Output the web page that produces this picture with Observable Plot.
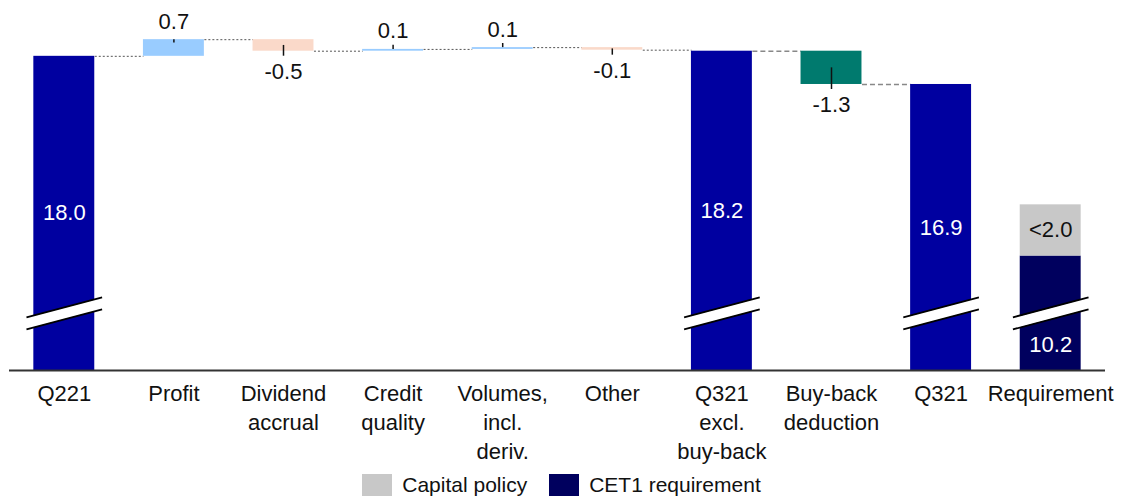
<!DOCTYPE html>
<html>
<head>
<meta charset="utf-8">
<script src="https://cdn.jsdelivr.net/npm/d3@7"></script>
<script src="https://cdn.jsdelivr.net/npm/@observablehq/plot@0.6"></script>
<style>
  html, body { margin: 0; padding: 0; background: #fff; }
  body { width: 1123px; font-family: "Liberation Sans", Arial, sans-serif; }
  #legend { display: flex; justify-content: center; align-items: center; margin-top: 3px; font-size: 21px; color: #111; }
  #legend .item { display: flex; align-items: center; margin: 0 11px; }
  #legend .sw { width: 30px; height: 22px; margin-right: 10px; }
</style>
</head>
<body>
<div id="chart"></div>
<div id="legend"></div>
<script>
// ---- data ----
const categories = ["Q221", "Profit", "Dividend\naccrual", "Credit\nquality", "Volumes,\nincl.\nderiv.", "Other", "Q321\nexcl.\nbuy-back", "Buy-back\ndeduction", "Q321", "Requirement"];
const kinds = ["total", "delta", "delta", "delta", "delta", "delta", "total", "delta", "total", "total"];
const values = [18.0, 0.65, -0.45, 0.07, 0.07, -0.1, 18.2, -1.3, 16.9, 10.2];
const valueLabels = ["18.0", "0.7", "-0.5", "0.1", "0.1", "-0.1", "18.2", "-1.3", "16.9", "10.2"];
const capitalPolicy = 2.0;
const capitalPolicyLabel = "<2.0";
const legendLabels = ["Capital policy", "CET1 requirement"];

// ---- styles ----
const C = {
  total: "#0000A0",
  req: "#00005E",
  pos: "#99CCFF",
  neg: "#FAD9C9",
  buyback: "#007A6E",
  policy: "#C8C8C8"
};
const yMin = 5.73, yMax = 20.18;
const hw = 0.278;           // half bar width (x units)
const breakCenter = 7.96;   // value at centre of the axis-break marks
const brokenBars = [0, 6, 8, 9];
const FS = 22;

// ---- derived rows ----
let cum = 0;
const rows = categories.map((c, i) => {
  const kind = kinds[i];
  let y1, y2;
  if (kind === "total") { y1 = yMin; y2 = values[i]; cum = values[i]; }
  else { y1 = cum; y2 = cum + values[i]; cum = y2; }
  let fill;
  if (kind === "total") fill = (i === 9 ? C.req : C.total);
  else if (i === 7) fill = C.buyback;
  else fill = values[i] >= 0 ? C.pos : C.neg;
  return { i, cat: c, kind, v: values[i], label: valueLabels[i], y1, y2, end: y2, fill };
});
const conns = rows.slice(0, 8).map((r, k) => ({
  x1: r.i + hw, x2: r.i + 1 - hw, level: r.end, late: k >= 6
}));
const totals = rows.filter(r => r.kind === "total");
const deltas = rows.filter(r => r.kind === "delta");
const posD = deltas.filter(r => r.v >= 0);
const negD = deltas.filter(r => r.v < 0);
const req = rows[9];
const breaks = rows.filter(r => brokenBars.includes(r.i));
const bx = 0.345, by = 0.39, bg = 0.235;

const plot = Plot.plot({
  width: 1123,
  height: 470,
  marginLeft: 9,
  marginRight: 18,
  marginTop: 0,
  marginBottom: 100,
  x: { domain: [-0.5, 9.5], axis: null },
  y: { domain: [yMin, yMax], axis: null },
  style: { fontFamily: "'Liberation Sans', Arial, sans-serif", fontSize: FS + "px", background: "#fff" },
  marks: [
    // connectors
    Plot.link(conns.filter(d => !d.late), { x1: "x1", x2: "x2", y1: "level", y2: "level", stroke: "#555", strokeWidth: 1, strokeDasharray: "2,2" }),
    Plot.link(conns.filter(d => d.late), { x1: "x1", x2: "x2", y1: "level", y2: "level", stroke: "#888", strokeWidth: 1.5, strokeDasharray: "5,3" }),
    // bars
    Plot.rect(rows, { x1: d => d.i - hw, x2: d => d.i + hw, y1: "y1", y2: "y2", fill: "fill" }),
    Plot.rect([req], { x1: d => d.i - hw, x2: d => d.i + hw, y1: d => d.v, y2: d => d.v + capitalPolicy, fill: C.policy }),
    // axis break marks
    Plot.link(breaks, { x1: d => d.i - bx, x2: d => d.i + bx, y1: breakCenter - by, y2: breakCenter + by, stroke: "#fff", strokeWidth: 11 }),
    Plot.link(breaks, { x1: d => d.i - bx, x2: d => d.i + bx, y1: breakCenter - by + bg, y2: breakCenter + by + bg, stroke: "#000", strokeWidth: 1.8 }),
    Plot.link(breaks, { x1: d => d.i - bx, x2: d => d.i + bx, y1: breakCenter - by - bg, y2: breakCenter + by - bg, stroke: "#000", strokeWidth: 1.8 }),
    // baseline
    Plot.ruleY([yMin], { stroke: "#333", strokeWidth: 2 }),
    // labels inside total bars
    Plot.text(totals.filter(d => d.i !== 9), { x: "i", y: d => (d.y1 + d.y2) / 2, text: "label", fill: "#fff", fontSize: FS }),
    Plot.text([req], { x: "i", y: d => (yMin + breakCenter - bg) / 2, text: "label", fill: "#fff", fontSize: FS }),
    Plot.text([req], { x: "i", y: d => d.v + capitalPolicy / 2, text: () => capitalPolicyLabel, fill: "#111", fontSize: FS }),
    // delta ticks
    Plot.ruleX(posD, { x: "i", y1: d => (d.y1 + d.y2) / 2, y2: "y2", insetTop: -5, stroke: "#111", strokeWidth: 1.5 }),
    Plot.ruleX(negD, { x: "i", y1: d => (d.y1 + d.y2) / 2, y2: "y2", insetBottom: -5, stroke: "#111", strokeWidth: 1.5 }),
    // delta labels
    Plot.text(posD, { x: "i", y: "y2", text: "label", lineAnchor: "bottom", dy: -11, fill: "#111", fontSize: FS }),
    Plot.text(negD, { x: "i", y: "y2", text: "label", lineAnchor: "top", dy: 12, fill: "#111", fontSize: FS }),
    // category labels
    Plot.text(rows, { x: "i", y: () => yMin, text: "cat", lineAnchor: "top", dy: 10, lineHeight: 1.32, fill: "#111", fontSize: FS })
  ]
});
document.getElementById("chart").appendChild(plot);

const legend = document.getElementById("legend");
[[legendLabels[0], C.policy], [legendLabels[1], C.req]].forEach(([t, c]) => {
  const it = document.createElement("div");
  it.className = "item";
  const sw = document.createElement("div");
  sw.className = "sw";
  sw.style.background = c;
  const tx = document.createElement("span");
  tx.textContent = t;
  it.appendChild(sw); it.appendChild(tx);
  legend.appendChild(it);
});
</script>
</body>
</html>
